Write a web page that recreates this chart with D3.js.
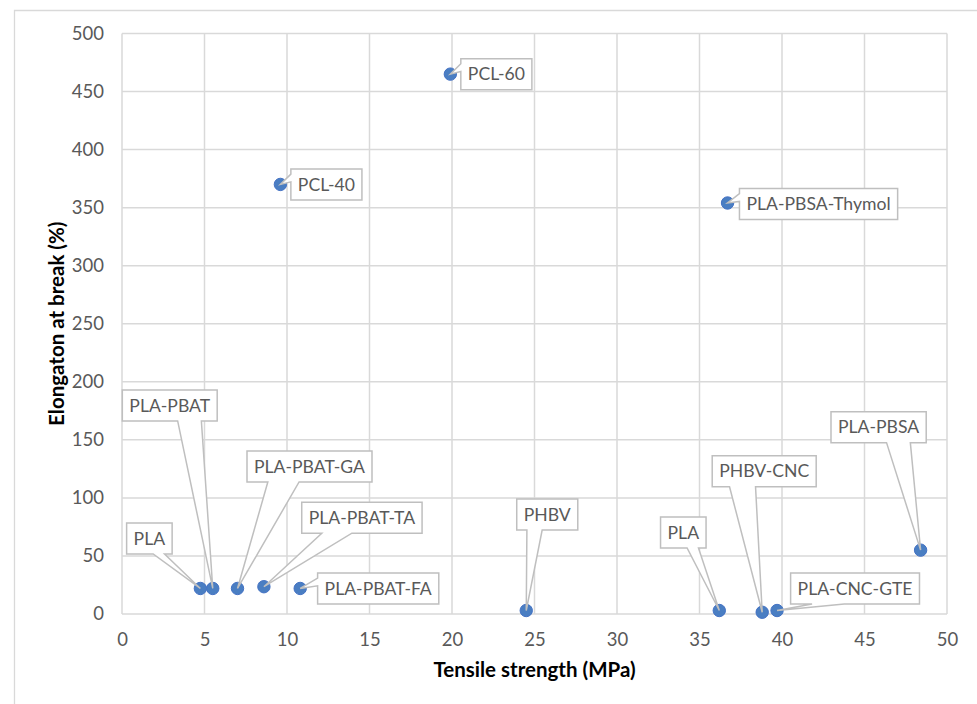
<!DOCTYPE html>
<html><head><meta charset="utf-8">
<script src="https://cdn.jsdelivr.net/npm/d3@7/dist/d3.min.js"></script>
<style>body{margin:0;background:#fff;}svg{display:block;}</style>
</head><body>
<svg id="chart" width="977" height="704"></svg>
<script>
// ---- data ----
const labels = ["PLA","PLA-PBAT","PLA-PBAT-GA","PLA-PBAT-TA","PLA-PBAT-FA","PHBV","PLA","PHBV-CNC","PLA-CNC-GTE","PLA-PBSA","PCL-40","PCL-60","PLA-PBSA-Thymol"];
const tensile = [4.75, 5.5, 7.0, 8.6, 10.8, 24.5, 36.2, 38.8, 39.7, 48.4, 9.6, 19.9, 36.7];
const elongation = [22, 22, 22, 23.5, 22, 3, 3, 1.5, 3, 55, 370, 465, 354];
const xTicks = [0,5,10,15,20,25,30,35,40,45,50];
const yTicks = [0,50,100,150,200,250,300,350,400,450,500];
// label box centre offsets from the point (layout, px)
const labelOffsets = [[-51,-50],[-43,-183],[72,-122],[98,-69],[78,0],[21,-96],[-36,-78],[2,-141],[78,-22],[-42,-123],[46,0],[46,0],[91,1]];

const svg = d3.select("#chart");
const L = 122, R = 947, T = 33.5, B = 614;
const x = d3.scaleLinear().domain([0,50]).range([L,R]);
const y = d3.scaleLinear().domain([0,500]).range([B,T]);
const grid = "#d9d9d9";

// outer chart border
svg.append("path").attr("d","M14.5,704 L14.5,10.5 L977,10.5").attr("fill","none").attr("stroke",grid).attr("stroke-width",1.3);

// gridlines
svg.append("g").selectAll("line").data(xTicks).join("line")
  .attr("x1",d=>x(d)).attr("x2",d=>x(d)).attr("y1",T).attr("y2",B)
  .attr("stroke",grid).attr("stroke-width",1.5);
svg.append("g").selectAll("line").data(yTicks).join("line")
  .attr("x1",L).attr("x2",R).attr("y1",d=>y(d)).attr("y2",d=>y(d))
  .attr("stroke",grid).attr("stroke-width",1.5);

// axes (labels only)
const font = "Lato, 'Open Sans', sans-serif";
const xAxis = svg.append("g").attr("transform",`translate(0,${B})`)
  .call(d3.axisBottom(x).tickValues(xTicks).tickSize(0).tickPadding(19));
const yAxis = svg.append("g").attr("transform",`translate(${L},0)`)
  .call(d3.axisLeft(y).tickValues(yTicks).tickSize(0).tickPadding(18));
[xAxis,yAxis].forEach(a=>{
  a.select(".domain").remove();
  a.selectAll("text").attr("fill","#595959").style("font-family",font).style("font-size","18.5px");
});

// axis titles
svg.append("text").attr("x",(L+R)/2).attr("y",677).attr("text-anchor","middle")
  .style("font-family",font).style("font-size","20.5px").style("font-weight","bold").attr("fill","#000")
  .text("Tensile strength (MPa)");
svg.append("text").attr("transform",`translate(64,${(T+B)/2}) rotate(-90)`).attr("text-anchor","middle")
  .style("font-family",font).style("font-size","20.5px").style("font-weight","bold").attr("fill","#000")
  .text("Elongaton at break (%)");

// points
const pts = labels.map((l,i)=>({label:l, x:tensile[i], y:elongation[i], off:labelOffsets[i]}));
svg.append("g").selectAll("circle").data(pts).join("circle")
  .attr("cx",d=>x(d.x)).attr("cy",d=>y(d.y)).attr("r",6.2)
  .attr("fill","#4a7ec2").attr("stroke","#4472c4").attr("stroke-width",1);

// callout labels (wedgeRectCallout geometry)
function callout(l,t,w,h,tx,ty){
  const r=l+w,b=t+h,hc=l+w/2,vc=t+h/2;
  const dxPos=tx-hc, dyPos=ty-vc;
  const dx=dxPos*h, dy=dyPos*w;
  const x1=l+w*(dxPos>0?7:2)/12, x2=l+w*(dxPos>0?10:5)/12;
  const y1=t+h*(dyPos>0?7:2)/12, y2=t+h*(dyPos>0?10:5)/12;
  const vert=Math.abs(dy)>Math.abs(dx);
  const tip=`L${tx},${ty}`;
  let p=`M${l},${t}`;
  p+=`L${x1},${t}` + (vert&&dy<0?tip:"") + `L${x2},${t}L${r},${t}`;
  p+=`L${r},${y1}` + (!vert&&dx>0?tip:"") + `L${r},${y2}L${r},${b}`;
  p+=`L${x2},${b}` + (vert&&dy>0?tip:"") + `L${x1},${b}L${l},${b}`;
  p+=`L${l},${y2}` + (!vert&&dx<0?tip:"") + `L${l},${y1}Z`;
  return p;
}
const lg = svg.append("g");
pts.forEach(d=>{
  const px=x(d.x), py=y(d.y);
  const cx=px+d.off[0], cy=py+d.off[1];
  const g=lg.append("g");
  const path=g.append("path");
  const txt=g.append("text").attr("x",cx).attr("y",cy).attr("dy","0.35em").attr("text-anchor","middle")
    .style("font-family",font).style("font-size","17.6px").attr("fill","#595959").text(d.label);
  const tw=txt.node().getComputedTextLength();
  const w=tw+14, h=31;
  path.attr("d",callout(cx-w/2,cy-h/2,w,h,px,py)).attr("fill","#fff").attr("stroke","#bfbfbf").attr("stroke-width",1.5);
});
</script>
</body></html>
